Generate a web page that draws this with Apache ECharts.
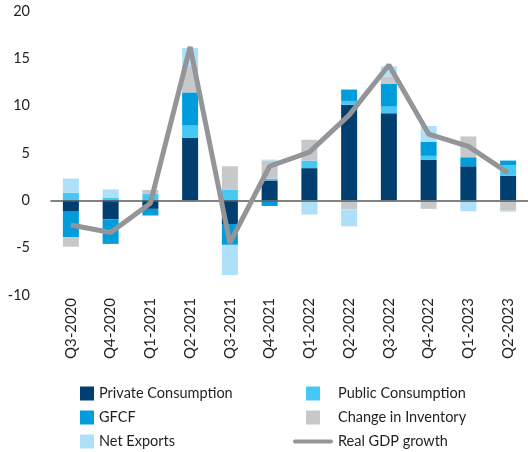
<!DOCTYPE html>
<html>
<head>
<meta charset="utf-8">
<script src="https://cdn.jsdelivr.net/npm/echarts@6/dist/echarts.min.js"></script>
<style>
  html, body { margin: 0; padding: 0; background: #fff; }
  #chart { width: 528px; height: 452px; }
</style>
</head>
<body>
<div id="chart"></div>
<script>
var quarters = ['Q3-2020', 'Q4-2020', 'Q1-2021', 'Q2-2021', 'Q3-2021', 'Q4-2021',
                'Q1-2022', 'Q2-2022', 'Q3-2022', 'Q4-2022', 'Q1-2023', 'Q2-2023'];

var privateCons = [-1.2, -2.0, -0.9, 6.6, -2.5, 2.1, 3.4, 10.1, 9.2, 4.3, 3.6, 2.6];
var publicCons  = [0.8, 0.3, 0.7, 1.3, 1.1, 0.2, 0.8, 0.4, 0.7, 0.4, -0.15, 1.1];
var gfcf        = [-2.7, -2.6, -0.7, 3.5, -2.2, -0.6, 0, 1.2, 2.4, 1.5, 0.95, 0.5];
var inventory   = [-1.0, 0, 0.4, 2.8, 2.5, 1.9, 2.2, -0.95, 0.8, -0.9, 2.2, -1.1];
var netExports  = [1.5, 0.85, 0, 1.9, -3.2, 0.1, -1.5, -1.8, 1.05, 1.65, -1.0, -0.1];
var gdpGrowth   = [-2.6, -3.4, -0.3, 16.2, -4.5, 3.6, 5.1, 9.0, 14.3, 7.0, 5.7, 2.9];

var yTicks = { min: -10, max: 20, step: 5 };

var chart = echarts.init(document.getElementById('chart'));
var font = 'Lato, "Open Sans", sans-serif';
var textColor = '#231f20';
var sq = 'path://M0,0H10V10H0Z';

function barSeries(name, data, color) {
    return {
        name: name,
        type: 'bar',
        stack: 'total',
        barWidth: 16,
        data: data,
        itemStyle: { color: color }
    };
}

var legendText = { fontSize: 14.5, color: textColor, fontFamily: font };

var option = {
    backgroundColor: '#fff',
    textStyle: { fontFamily: font },
    grid: { left: 51, right: -2, top: 11, bottom: 157 },
    legend: [
        {
            left: 80, top: 386, orient: 'vertical', padding: 0,
            itemWidth: 14, itemHeight: 14, itemGap: 9,
            textStyle: legendText,
            data: [
                { name: 'Private Consumption', icon: 'rect' },
                { name: 'GFCF', icon: 'rect' },
                { name: 'Net Exports', icon: 'rect' }
            ]
        },
        {
            left: 293, top: 386, orient: 'vertical', padding: 0,
            itemWidth: 40, itemHeight: 14, itemGap: 9,
            symbolKeepAspect: true,
            textStyle: legendText,
            data: [
                { name: 'Public Consumption', icon: sq },
                { name: 'Change in Inventory', icon: sq },
                { name: 'Real GDP growth', icon: 'path://M2,0H38A2,2 0 0 1 38,4H2A2,2 0 0 1 2,0Z' }
            ]
        }
    ],
    xAxis: [
        {
            type: 'category',
            data: quarters,
            position: 'bottom',
            axisLine: { show: false, onZero: false },
            axisTick: { show: false },
            axisLabel: { rotate: 90, fontSize: 15, color: textColor, margin: 3, fontFamily: font }
        },
        {
            type: 'category',
            data: quarters,
            z: 3,
            axisLine: { show: true, onZero: true, lineStyle: { color: '#58595b', width: 1.5 } },
            axisTick: { show: false },
            axisLabel: { show: false }
        }
    ],
    yAxis: {
        type: 'value',
        min: yTicks.min,
        max: yTicks.max,
        interval: yTicks.step,
        axisLine: { show: false },
        axisTick: { show: false },
        splitLine: { show: false },
        axisLabel: { fontSize: 14.5, color: textColor, margin: 21, fontFamily: font }
    },
    series: [
        barSeries('Private Consumption', privateCons, '#003f6f'),
        barSeries('Public Consumption', publicCons, '#45c8f4'),
        barSeries('GFCF', gfcf, '#009cdc'),
        barSeries('Change in Inventory', inventory, '#c7c8ca'),
        barSeries('Net Exports', netExports, '#aee1f9'),
        {
            name: 'Real GDP growth',
            type: 'line',
            data: gdpGrowth,
            z: 5,
            symbol: 'none',
            lineStyle: { color: '#939598', width: 5 },
            itemStyle: { color: '#939598' }
        }
    ]
};
chart.setOption(option);
</script>
</body>
</html>
